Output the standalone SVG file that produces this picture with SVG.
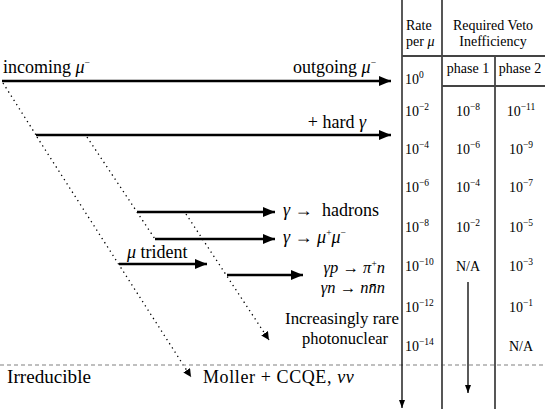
<svg xmlns="http://www.w3.org/2000/svg" width="545" height="409" viewBox="0 0 545 409" font-family="'Liberation Serif', 'DejaVu Serif', serif">
<defs>
<marker id="ah" viewBox="0 0 12 10" refX="12" refY="5" markerWidth="12" markerHeight="10" markerUnits="userSpaceOnUse" orient="auto"><path d="M0,0 L12,5 L0,10 z" fill="#000"/></marker>
<marker id="ahs" viewBox="0 0 8 8" refX="8" refY="4" markerWidth="8" markerHeight="8" markerUnits="userSpaceOnUse" orient="auto"><path d="M0,0 L8,4 L0,8 z" fill="#000"/></marker>
<marker id="aht" viewBox="0 0 8 6" refX="8" refY="3" markerWidth="8" markerHeight="6" markerUnits="userSpaceOnUse" orient="auto"><path d="M0,0 L8,3 L0,6 z" fill="#000"/></marker>
</defs>
<style>
text{font-family:'Liberation Serif','DejaVu Serif',serif;fill:#000}
.lg{font-size:18px}
.md{font-size:16.5px}
.sm{font-size:14px}
.it{font-style:italic}
.sup{font-size:9.5px}
.arr{stroke:#000;stroke-width:2.6;fill:none;marker-end:url(#ah)}
.dot{stroke:#000;stroke-width:1.3;fill:none;stroke-dasharray:1.3 3.7}
.dota{stroke:#000;stroke-width:1.3;fill:none;stroke-dasharray:1.3 3.7;marker-end:url(#ahs)}
.tl{stroke:#444;stroke-width:1.8;fill:none}
.dash{stroke:#aaa;stroke-width:1.4;stroke-dasharray:4 3;fill:none}
</style>
<g id="connectors">
<line class="arr" x1="2" y1="81" x2="391" y2="81"/>
<line class="arr" x1="36" y1="135" x2="391" y2="135"/>
<line class="arr" x1="137" y1="212" x2="275" y2="212"/>
<line class="arr" x1="155" y1="239" x2="275" y2="239"/>
<line class="arr" x1="119" y1="264" x2="207" y2="264"/>
<line class="arr" x1="227" y1="275" x2="303" y2="275"/>
<line class="dot" x1="3" y1="83" x2="36" y2="135"/>
<line class="dota" x1="37" y1="137" x2="191" y2="377"/>
<line class="dot" x1="87" y1="137" x2="155" y2="239"/>
<line class="dota" x1="186" y1="214" x2="269" y2="340"/>
</g>
<g id="dashed-divider"><line class="dash" x1="0" y1="365" x2="545" y2="365"/></g>
<g id="labels">
<text class="lg" x="3" y="73">incoming <tspan class="it">μ</tspan><tspan class="sup" dy="-7">−</tspan></text>
<text class="lg" x="376" y="73" text-anchor="end">outgoing <tspan class="it">μ</tspan><tspan class="sup" dy="-7">−</tspan></text>
<text class="lg" x="366" y="128" text-anchor="end">+ hard <tspan class="it">γ</tspan></text>
<text class="lg" x="283" y="216" font-size="19"><tspan class="it">γ</tspan> → <tspan dx="5">hadrons</tspan></text>
<text class="lg" x="283" y="243"><tspan class="it">γ</tspan> → <tspan class="it">μ</tspan><tspan class="sup" dy="-7">+</tspan><tspan class="it" dy="7">μ</tspan><tspan class="sup" dy="-7">−</tspan></text>
<text class="lg" x="127" y="258"><tspan class="it">μ</tspan> trident</text>
<text class="md" x="385" y="273" text-anchor="end"><tspan class="it">γp</tspan> → <tspan class="it">π</tspan><tspan class="sup" dy="-6">+</tspan><tspan class="it" dy="6">n</tspan></text>
<text class="md" x="385" y="293" text-anchor="end"><tspan class="it">γn</tspan> → <tspan class="it">nn̄n</tspan></text>
<text class="md" x="399" y="324" text-anchor="end" textLength="114" lengthAdjust="spacingAndGlyphs">Increasingly rare</text>
<text class="md" x="345" y="344" text-anchor="middle">photonuclear</text>
<text class="lg" x="7" y="383" textLength="84" lengthAdjust="spacingAndGlyphs">Irreducible</text>
<text class="lg" x="203" y="383" letter-spacing="0.6">Moller + CCQE, <tspan class="it">νν</tspan></text>
</g>
<g id="table">
<line x1="402" y1="0" x2="402" y2="408" stroke="#000" stroke-width="1.3" marker-end="url(#aht)"/>
<line class="tl" x1="442" y1="0" x2="442" y2="409"/>
<line class="tl" x1="495" y1="56" x2="495" y2="409"/>
<line class="tl" x1="402" y1="56" x2="545" y2="56"/>
<line class="tl" x1="442" y1="86" x2="545" y2="86"/>
<line x1="468" y1="282" x2="468" y2="393" stroke="#000" stroke-width="1.3" marker-end="url(#aht)"/>
<text class="sm" x="406" y="30">Rate</text>
<text class="sm" x="406" y="46">per <tspan class="it">μ</tspan></text>
<text class="sm" x="493" y="30" text-anchor="middle">Required Veto</text>
<text class="sm" x="493" y="46" text-anchor="middle">Inefficiency</text>
<text class="sm" x="468" y="73" text-anchor="middle">phase 1</text>
<text class="sm" x="520" y="73" text-anchor="middle">phase 2</text>
<g id="rates">
<text class="sm" x="405" y="84">10<tspan class="sup" dy="-6">0</tspan></text>
<text class="sm" x="405" y="116">10<tspan class="sup" dy="-6">−2</tspan></text>
<text class="sm" x="405" y="154">10<tspan class="sup" dy="-6">−4</tspan></text>
<text class="sm" x="405" y="192">10<tspan class="sup" dy="-6">−6</tspan></text>
<text class="sm" x="405" y="232">10<tspan class="sup" dy="-6">−8</tspan></text>
<text class="sm" x="405" y="271">10<tspan class="sup" dy="-6">−10</tspan></text>
<text class="sm" x="405" y="312">10<tspan class="sup" dy="-6">−12</tspan></text>
<text class="sm" x="405" y="351">10<tspan class="sup" dy="-6">−14</tspan></text>
</g>
<g id="phase1" text-anchor="middle">
<text class="sm" x="468" y="116">10<tspan class="sup" dy="-6">−8</tspan></text>
<text class="sm" x="468" y="154">10<tspan class="sup" dy="-6">−6</tspan></text>
<text class="sm" x="468" y="192">10<tspan class="sup" dy="-6">−4</tspan></text>
<text class="sm" x="468" y="232">10<tspan class="sup" dy="-6">−2</tspan></text>
<text class="sm" x="468" y="271">N/A</text>
</g>
<g id="phase2" text-anchor="middle">
<text class="sm" x="521" y="116">10<tspan class="sup" dy="-6">−11</tspan></text>
<text class="sm" x="521" y="154">10<tspan class="sup" dy="-6">−9</tspan></text>
<text class="sm" x="521" y="192">10<tspan class="sup" dy="-6">−7</tspan></text>
<text class="sm" x="521" y="232">10<tspan class="sup" dy="-6">−5</tspan></text>
<text class="sm" x="521" y="271">10<tspan class="sup" dy="-6">−3</tspan></text>
<text class="sm" x="521" y="312">10<tspan class="sup" dy="-6">−1</tspan></text>
<text class="sm" x="521" y="351">N/A</text>
</g>
</g>
</svg>
